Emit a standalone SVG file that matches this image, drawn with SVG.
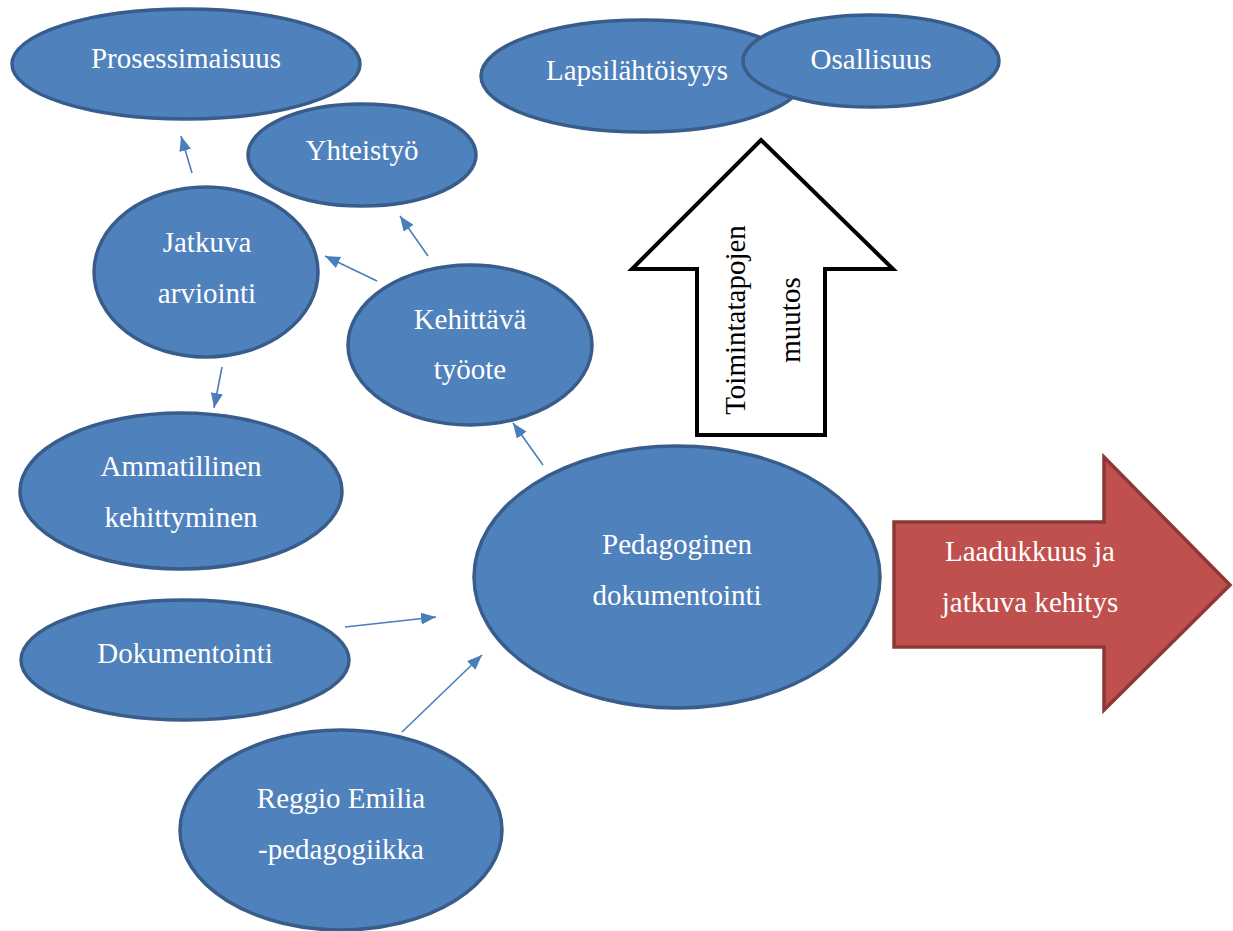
<svg xmlns="http://www.w3.org/2000/svg" width="1233" height="931" viewBox="0 0 1233 931">
<style>
.n ellipse{fill:#4F81BD;stroke:#385D8A;stroke-width:3.5}
.t{font-family:'Liberation Serif','Tinos','Times New Roman','Noto Serif','DejaVu Serif',serif;font-size:29px;fill:#FFFFFF;text-anchor:middle}
.c line{stroke:#4A7EBB;stroke-width:1.6;marker-end:url(#ah)}
.bk{font-family:'Liberation Serif','Tinos','Times New Roman','Noto Serif','DejaVu Serif',serif;font-size:29px;fill:#000000;text-anchor:middle}
</style>
<defs>
<marker id="ah" markerUnits="userSpaceOnUse" markerWidth="16" markerHeight="12" refX="15" refY="6" orient="auto">
<path d="M0,0 L15,6 L0,12 Z" fill="#4A7EBB"/>
</marker>
</defs>
<rect width="1233" height="931" fill="#FFFFFF"/>
<g id="prosessimaisuus" class="n"><ellipse cx="186" cy="64" rx="174" ry="55"/><text class="t" x="186" y="68">Prosessimaisuus</text></g>
<g id="yhteistyo" class="n"><ellipse cx="362" cy="155" rx="114" ry="51"/><text class="t" x="362" y="160">Yhteistyö</text></g>
<g id="lapsilahtoisyys" class="n"><ellipse cx="643" cy="76" rx="162" ry="56"/><text class="t" x="637" y="80">Lapsilähtöisyys</text></g>
<g id="osallisuus" class="n"><ellipse cx="871" cy="61" rx="128" ry="46"/><text class="t" x="871" y="69">Osallisuus</text></g>
<g id="jatkuva" class="n"><ellipse cx="206" cy="272" rx="112" ry="85"/><text class="t" x="207" y="252">Jatkuva</text><text class="t" x="207" y="303">arviointi</text></g>
<g id="kehittava" class="n"><ellipse cx="470" cy="345" rx="122" ry="80"/><text class="t" x="470" y="329">Kehittävä</text><text class="t" x="470" y="379">työote</text></g>
<g id="ammatillinen" class="n"><ellipse cx="181" cy="491" rx="161" ry="78"/><text class="t" x="181" y="476">Ammatillinen</text><text class="t" x="181" y="527">kehittyminen</text></g>
<g id="dokumentointi" class="n"><ellipse cx="185" cy="660" rx="164" ry="60"/><text class="t" x="185" y="663">Dokumentointi</text></g>
<g id="reggio" class="n"><ellipse cx="341" cy="830" rx="161" ry="100"/><text class="t" x="341" y="808">Reggio Emilia</text><text class="t" x="341" y="859">-pedagogiikka</text></g>
<g id="pedagoginen" class="n"><ellipse cx="677" cy="577" rx="203" ry="131"/><text class="t" x="677" y="554">Pedagoginen</text><text class="t" x="677" y="605">dokumentointi</text></g>
<g id="toimintatapojen">
<polygon points="761,140 893,269 825,269 825,435 697,435 697,269 632,269" fill="#FFFFFF" stroke="#000000" stroke-width="4"/>
<text class="bk" transform="translate(745,320) rotate(-90)">Toimintatapojen</text>
<text class="bk" transform="translate(800,320) rotate(-90)">muutos</text>
</g>
<g id="laadukkuus">
<polygon points="894,522 1104,522 1104,457 1230,585 1104,710 1104,647 894,647" fill="#C0504D" stroke="#8C3836" stroke-width="3.5"/>
<text class="t" x="1030" y="561">Laadukkuus ja</text>
<text class="t" x="1030" y="612">jatkuva kehitys</text>
</g>
<g id="connectors" class="c">
<line x1="192" y1="173" x2="181" y2="136"/>
<line x1="428" y1="256" x2="400" y2="216"/>
<line x1="377" y1="281" x2="325" y2="256"/>
<line x1="222" y1="367" x2="214" y2="408"/>
<line x1="543" y1="465" x2="513" y2="423"/>
<line x1="345" y1="627" x2="436" y2="617"/>
<line x1="402" y1="732" x2="482" y2="655"/>
</g>
</svg>
